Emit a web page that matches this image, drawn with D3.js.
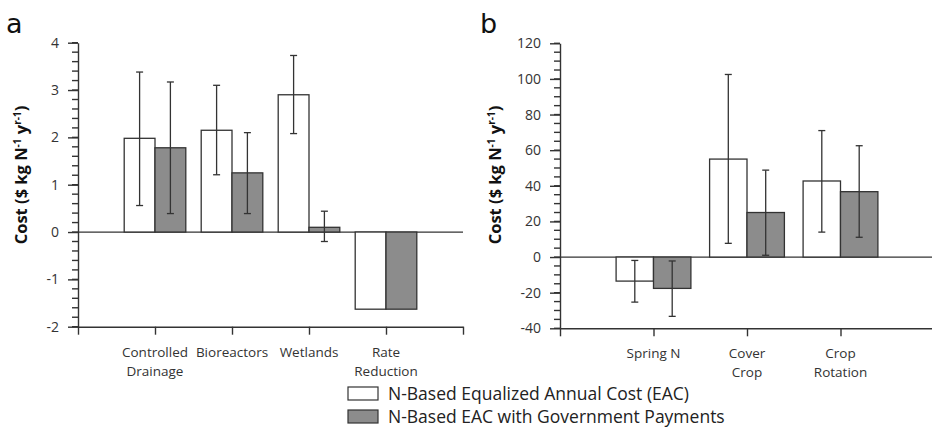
<!DOCTYPE html>
<html>
<head>
<meta charset="utf-8">
<script src="https://cdn.jsdelivr.net/npm/d3@7"></script>
<style>
  body { margin: 0; background: #fff; }
  svg { display: block; font-family: "Open Sans", sans-serif; }
</style>
</head>
<body>
<svg id="chart" width="932" height="428"></svg>
<script>
// panel a
const catsA = [["Controlled", "Drainage"], ["Bioreactors"], ["Wetlands"], ["Rate", "Reduction"]];
const eacA = [1.98, 2.15, 2.9, -1.63];
const eacHiA = [3.38, 3.1, 3.73, null];
const eacLoA = [0.56, 1.21, 2.08, null];
const govA = [1.78, 1.25, 0.1, -1.63];
const govHiA = [3.17, 2.1, 0.44, null];
const govLoA = [0.39, 0.39, -0.2, null];
const ticksA = [-2, -1, 0, 1, 2, 3, 4];

// panel b
const catsB = [["Spring N"], ["Cover", "Crop"], ["Crop", "Rotation"]];
const eacB = [-13.5, 55, 42.7];
const eacHiB = [-1.9, 102.5, 71];
const eacLoB = [-25.3, 7.7, 14];
const govB = [-17.6, 25, 36.7];
const govHiB = [-2.2, 48.8, 62.5];
const govLoB = [-33.3, 1.0, 11.1];
const ticksB = [-40, -20, 0, 20, 40, 60, 80, 100, 120];

const legendLabels = ["N-Based Equalized Annual Cost (EAC)", "N-Based EAC with Government Payments"];
const fills = ["#ffffff", "#8c8c8c"];
const ink = "#333";

const svg = d3.select("#chart");
const fmt = d => String(d); // plain hyphen minus like the original

function drawPanel(opt)
{
    const g = svg.append("g");
    const x = d3.scaleLinear().domain([0, opt.nBands]).range(opt.xRange);
    const y = d3.scaleLinear().domain(opt.yDomain).range(opt.yRange);
    const unit = x(1) - x(0);
    const bw = unit * 0.4;
    const [x0, x1] = opt.xRange;

    // minor ticks
    const nMinor = Math.round((opt.yDomain[1] - opt.yDomain[0]) / opt.minor);
    const minorVals = d3.range(0, nMinor + 1).map(k => opt.yDomain[0] + k * opt.minor);
    g.append("g").selectAll("line")
        .data(minorVals)
        .join("line")
        .attr("x1", x0 - 6).attr("x2", x0)
        .attr("y1", d => y(d)).attr("y2", d => y(d))
        .attr("stroke", ink)
        .attr("stroke-width", 1.4);

    // major ticks + labels
    g.append("g")
        .attr("transform", `translate(${x0},0)`)
        .call(d3.axisLeft(y).tickValues(opt.ticks).tickSize(10).tickSizeOuter(0).tickPadding(9).tickFormat(fmt))
        .call(a => a.select(".domain").attr("stroke", ink).attr("stroke-width", 1.4))
        .call(a => a.selectAll("line").attr("stroke", ink).attr("stroke-width", 1.4))
        .call(a => a.selectAll("text").attr("fill", "#333").style("font-size", "14px").style("font-family", "Open Sans"));

    // bottom axis
    g.append("g")
        .attr("transform", `translate(0,${y(opt.yDomain[0])})`)
        .call(d3.axisBottom(x).tickValues(d3.range(0, opt.nBands + 1)).tickSize(8).tickSizeOuter(0).tickFormat(""))
        .call(a => a.select(".domain").attr("stroke", ink).attr("stroke-width", 1.4))
        .call(a => a.selectAll("line").attr("stroke", ink).attr("stroke-width", 1.4));

    // category labels
    g.append("g").selectAll("text")
        .data(opt.cats)
        .join("text")
        .attr("x", (d, i) => x(i + 1))
        .attr("y", y(opt.yDomain[0]) + 30)
        .attr("text-anchor", "middle")
        .attr("fill", "#333")
        .style("font-size", "13.5px")
        .selectAll("tspan")
        .data(d => d)
        .join("tspan")
        .attr("x", function () { return this.parentNode.getAttribute("x"); })
        .attr("dy", (d, i) => i === 0 ? 0 : 19)
        .text(d => d);

    // zero line
    g.append("line")
        .attr("x1", x0).attr("x2", x1)
        .attr("y1", y(0)).attr("y2", y(0))
        .attr("stroke", ink).attr("stroke-width", 1.3);

    const series = [
        {vals: opt.eac, hi: opt.eacHi, lo: opt.eacLo, off: -bw},
        {vals: opt.gov, hi: opt.govHi, lo: opt.govLo, off: 0}
    ];
    series.forEach((s, si) => {
        g.append("g").selectAll("rect")
            .data(s.vals)
            .join("rect")
            .attr("x", (d, i) => x(i + 1) + s.off)
            .attr("width", bw)
            .attr("y", d => y(Math.max(0, d)))
            .attr("height", d => Math.abs(y(d) - y(0)))
            .attr("fill", fills[si])
            .attr("stroke", "#333")
            .attr("stroke-width", 1.3);
    });
    series.forEach(s => {
        const eb = g.append("g").attr("stroke", "#333").attr("stroke-width", 1.3);
        s.vals.forEach((v, i) => {
            if (s.hi[i] == null) return;
            const cx = x(i + 1) + s.off + bw / 2;
            eb.append("line").attr("x1", cx).attr("x2", cx).attr("y1", y(s.hi[i])).attr("y2", y(s.lo[i]));
            [s.hi[i], s.lo[i]].forEach(e => {
                eb.append("line").attr("x1", cx - 3.5).attr("x2", cx + 3.5).attr("y1", y(e)).attr("y2", y(e));
            });
        });
    });

    // y title
    const yt = svg.append("text")
        .attr("transform", `translate(${opt.titleX},${opt.titleY}) rotate(-90)`)
        .attr("text-anchor", "middle")
        .attr("fill", "#111")
        .style("font-size", "16.5px")
        .style("font-weight", "bold");
    yt.append("tspan").text("Cost ($ kg N");
    yt.append("tspan").attr("dy", -6).style("font-size", "10px").text("-1");
    yt.append("tspan").attr("dy", 6).text(" y");
    yt.append("tspan").attr("dy", -6).style("font-size", "10px").text("r-1");
    yt.append("tspan").attr("dy", 6).text(")");

    // panel letter
    svg.append("text")
        .attr("x", opt.letterX).attr("y", 33)
        .attr("fill", "#111")
        .style("font-size", "27px")
        .style("font-family", "DejaVu Sans, sans-serif")
        .text(opt.letter);
}

drawPanel({
    cats: catsA, eac: eacA, eacHi: eacHiA, eacLo: eacLoA, gov: govA, govHi: govHiA, govLo: govLoA,
    ticks: ticksA, minor: 0.2, nBands: 5, xRange: [78, 463], yDomain: [-2, 4], yRange: [326.7, 42.7],
    titleX: 27, titleY: 175, letter: "a", letterX: 6
});
drawPanel({
    cats: catsB, eac: eacB, eacHi: eacHiB, eacLo: eacLoB, gov: govB, govHi: govHiB, govLo: govLoB,
    ticks: ticksB, minor: 5, nBands: 4, xRange: [560, 934], yDomain: [-40, 120], yRange: [328.3, 43.3],
    titleX: 501, titleY: 175, letter: "b", letterX: 480
});

// legend
const leg = svg.append("g").attr("transform", "translate(348,387)");
legendLabels.forEach((lab, i) => {
    leg.append("rect")
        .attr("x", 0).attr("y", i * 23)
        .attr("width", 30).attr("height", 13)
        .attr("fill", fills[i]).attr("stroke", "#333").attr("stroke-width", 1.2);
    leg.append("text")
        .attr("x", 40).attr("y", i * 23 + 12.5)
        .attr("fill", "#222")
        .style("font-size", "17.5px")
        .text(lab);
});
</script>
</body>
</html>
